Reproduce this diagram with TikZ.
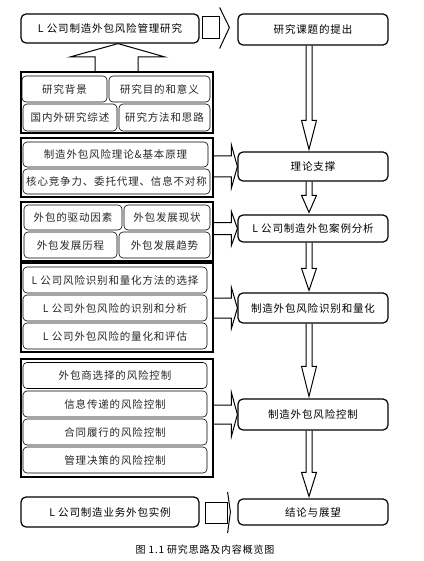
\documentclass[tikz,border=0pt]{standalone}
\usepackage{fontspec}
\setmainfont[LetterSpace=8]{Noto Sans CJK SC}
\usetikzlibrary{calc}

\tikzset{
    mainbox/.style={draw, rounded corners=5pt, line width=1.2pt, inner sep=0pt},
    grpbox/.style={draw, line width=2pt, inner sep=0pt},
    subbox/.style={draw, rounded corners=4pt, line width=0.6pt, inner sep=0pt, text=black!85},
    blockarrow/.style={line width=1pt, line join=miter}
}

\begin{document}
\begin{tikzpicture}[x=1pt, y=-1pt, font=\fontsize{10.5}{12}\selectfont]
    \useasboundingbox (0,0) rectangle (423,561);

    % 左侧主框与分组框
    \node[mainbox, minimum width=178pt, minimum height=29pt] (top) at (110,28.5) {L 公司制造外包风险管理研究};
    \node[grpbox, minimum width=192pt, minimum height=61pt] (g1) at (117,102.5) {};
    \node[grpbox, minimum width=192pt, minimum height=59pt] (g2) at (117,167.5) {};
    \node[grpbox, minimum width=192pt, minimum height=59pt] (g3) at (117,231.5) {};
    \node[grpbox, minimum width=192pt, minimum height=89pt] (g4) at (117,307.5) {};
    \node[grpbox, minimum width=192pt, minimum height=118pt] (g5) at (117,418) {};
    \node[mainbox, minimum width=178pt, minimum height=30pt] (bot) at (110,512) {L 公司制造业务外包实例};

    % 第一组
    \node[subbox, minimum width=85pt, minimum height=26pt] (a1) at (64.5,89) {研究背景};
    \node[subbox, minimum width=101pt, minimum height=26pt] (a2) at (159.5,89) {研究目的和意义};
    \node[subbox, minimum width=94pt, minimum height=27pt] (a3) at (70,117.5) {国内外研究综述};
    \node[subbox, minimum width=91pt, minimum height=27pt] (a4) at (164.5,117.5) {研究方法和思路};

    % 第二组
    \node[subbox, minimum width=185pt, minimum height=25pt] (b1) at (115.5,154.5) {制造外包风险理论\&基本原理};
    \node[subbox, minimum width=187pt, minimum height=25pt] (b2) at (116.5,181.5) {核心竞争力、委托代理、信息不对称};

    % 第三组
    \node[subbox, minimum width=98pt, minimum height=25pt] (c1) at (73,217.5) {外包的驱动因素};
    \node[subbox, minimum width=86pt, minimum height=25pt] (c2) at (167,217.5) {外包发展现状};
    \node[subbox, minimum width=93pt, minimum height=26pt] (c3) at (70.5,245) {外包发展历程};
    \node[subbox, minimum width=91pt, minimum height=26pt] (c4) at (164.5,245) {外包发展趋势};

    % 第四组
    \foreach \i/\y/\t in {1/280/L 公司风险识别和量化方法的选择, 2/308/L 公司外包风险的识别和分析, 3/336/L 公司外包风险的量化和评估}
        \node[subbox, minimum width=184pt, minimum height=26pt] (d\i) at (115,\y) {\t};

    % 第五组
    \foreach \i/\y/\t in {1/375.5/外包商选择的风险控制, 2/404/信息传递的风险控制, 3/432/合同履行的风险控制, 4/460/管理决策的风险控制}
        \node[subbox, minimum width=184pt, minimum height=26pt] (e\i) at (115,\y) {\t};

    % 右侧流程
    \foreach \n/\y/\h/\t in {r1/29.5/31pt/研究课题的提出, r2/166.5/29pt/理论支撑, r3/228.5/27pt/L 公司制造外包案例分析, r4/308/30pt/制造外包风险识别和量化, r5/414.5/31pt/制造外包风险控制, r6/512/26pt/结论与展望}
        \node[mainbox, minimum width=150pt, minimum height=\h] (\n) at (313,\y) {\t};

    % 向下的空心箭头
    \foreach \a/\b/\l in {r1/r2/29, r2/r3/17, r3/r4/22, r4/r5/30, r5/r6/24}
        \draw[blockarrow] ($(\a.south)+(-7,0)$) -- ($(\b.north)+(-7,-\l-2)$) -- ($(\b.north)+(-11.5,-\l-2)$)
            -- ($(\b.north)+(-4,-2)$) -- ($(\b.north)+(3.5,-\l-2)$) -- ($(\b.north)+(-1,-\l-2)$) -- ($(\a.south)+(-1,0)$);

    % 分组指向右侧
    \foreach \g/\r/\s/\h in {g2/r2/10.5/21.5, g3/r3/6/17, g4/r4/10/20.5, g5/r5/9.5/22} {
        \coordinate (s) at (\g.east |- \r.west);
        \draw[blockarrow] ($(s)+(0,-\s)$) -- ($(\r.west)+(-6,-\s)$) -- ($(\r.west)+(-6,-\h)$) -- (\r.west)
            -- ($(\r.west)+(-6,\h)$) -- ($(\r.west)+(-6,\s)$) -- ($(s)+(0,\s)$);
    }

    % 首尾的右向箭头
    \draw[blockarrow] ($(top.east)+(3,-12)$) rectangle ($(top.east)+(20,10)$);
    \draw[blockarrow] ($(top.east)+(20,-21)$) -- ($(r1.west)+(-8,-2)$) -- ($(top.east)+(20,20)$);
    \draw[blockarrow] ($(bot.east)+(6,-10)$) rectangle ($(bot.east)+(28,11)$);
    \draw[blockarrow] ($(bot.east)+(28,-20)$) -- ($(r6.west)+(-7,0)$) -- ($(bot.east)+(28,21)$);

    % 第一组指向上方
    \draw[blockarrow] ($(g1.north)+(-22,0)$) -- ++(0,-14) -- ++(-25,0) -- ($(top.south)+(8,0)$)
        -- ($(g1.north)+(48,-14)$) -- ++(-27,0) -- ++(0,14);

    % 图题
    \node[font=\fontsize{10}{12}\selectfont] (cap) at (205,550) {图 1.1 研究思路及内容概览图};
\end{tikzpicture}
\end{document}
